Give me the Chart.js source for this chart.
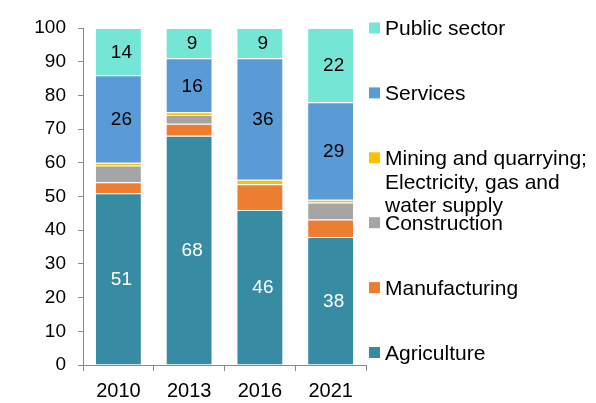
<!DOCTYPE html>
<html>
<head>
<meta charset="utf-8">
<script src="https://cdn.jsdelivr.net/npm/chart.js@4/dist/chart.umd.min.js"></script>
<style>
    html, body { margin: 0; padding: 0; background: #fff; }
    #wrap { width: 596px; height: 403px; }
</style>
</head>
<body>
<div id="wrap"><canvas id="sectorChart" width="596" height="403"></canvas></div>
<script>
// =============================================================
// DATA (share of employment, %)
// =============================================================
const years         = ["2010", "2013", "2016", "2021"];
const agriculture   = [51, 68, 46, 38];
const manufacturing = [3.2, 3.6, 7.6, 5.2];
const construction  = [5.0, 2.6, 0, 5.0];
const mining        = [0.8, 0.8, 1.4, 0.8];
const services      = [26, 16, 36, 29];
const publicSector  = [14, 9, 9, 22];
const yTicks        = [0, 10, 20, 30, 40, 50, 60, 70, 80, 90, 100];

const FONT = "'Liberation Sans', Arial, sans-serif";

// =============================================================
// VALUE LABELS INSIDE THE SEGMENTS
// =============================================================
const segmentLabels = {
    id: "segmentLabels",
    afterDatasetsDraw(chart) {
        const ctx = chart.ctx;
        ctx.save();
        ctx.font = "19px " + FONT;
        ctx.textAlign = "center";
        ctx.textBaseline = "middle";
        chart.data.datasets.forEach((ds, i) => {
            if (!ds.showValue) return;
            chart.getDatasetMeta(i).data.forEach((bar, j) => {
                const p = bar.getProps(["x", "y", "base"], true);
                ctx.fillStyle = ds.valueColor;
                ctx.fillText(String(ds.data[j]), p.x + 3, (p.y + p.base) / 2 + 1);
            });
        });
        ctx.restore();
    }
};

// =============================================================
// LEGEND ON THE RIGHT (top to bottom = top of stack first)
// =============================================================
const sideLegend = {
    id: "sideLegend",
    afterDraw(chart) {
        const ctx = chart.ctx;
        const list = chart.data.datasets.slice().reverse();
        ctx.save();
        ctx.font = "21px " + FONT;
        ctx.textBaseline = "alphabetic";
        list.forEach((ds, i) => {
            const cy = 28 + i * 64.9;
            ctx.fillStyle = ds.backgroundColor;
            ctx.fillRect(369, cy - 5.5, 11, 11);
            ctx.fillStyle = "#000";
            const lines = Array.isArray(ds.label) ? ds.label : [ds.label];
            lines.forEach((ln, k) => ctx.fillText(ln, 385, cy + 7 + k * 23.7));
        });
        ctx.restore();
    }
};

// =============================================================
// CHART
// =============================================================
function series(label, data, color, showValue, valueColor) {
    return {
        label, data,
        backgroundColor: color,
        borderColor: "rgba(255,255,255,0.35)",
        borderWidth: 1,
        categoryPercentage: 1,
        barPercentage: 0.662,
        showValue, valueColor
    };
}

new Chart(document.getElementById("sectorChart"), {
    type: "bar",
    data: {
        labels: years,
        datasets: [
            series("Agriculture",   agriculture,   "#378BA2", true,  "#fff"),
            series("Manufacturing", manufacturing, "#ED7D31", false),
            series("Construction",  construction,  "#A5A5A5", false),
            series(["Mining and quarrying;", "Electricity, gas and", "water supply"], mining, "#FFC000", false),
            series("Services",      services,      "#5B9BD5", true,  "#000"),
            series("Public sector", publicSector,  "#75E6D6", true,  "#000")
        ]
    },
    options: {
        responsive: false,
        animation: false,
        layout: { padding: { top: 28, right: 230, left: 0, bottom: 0 } },
        plugins: {
            legend: { display: false },
            tooltip: { enabled: false }
        },
        scales: {
            x: {
                stacked: true,
                afterFit: s => { s.height = 38; },
                grid: { drawOnChartArea: false, drawTicks: true, tickLength: 6, color: "#898989", offset: true },
                border: { color: "#898989", width: 1 },
                ticks: { color: "#000", font: { family: FONT, size: 20 }, padding: 8 }
            },
            y: {
                stacked: true,
                min: 0, max: 100,
                afterFit: s => { s.width = 83; },
                afterBuildTicks: s => { s.ticks = yTicks.map(v => ({ value: v })); },
                grid: { drawOnChartArea: false, drawTicks: true, tickLength: 5, color: "#898989" },
                border: { color: "#898989", width: 1 },
                ticks: { color: "#000", font: { family: FONT, size: 19 }, padding: 12 }
            }
        }
    },
    plugins: [segmentLabels, sideLegend]
});
</script>
</body>
</html>
